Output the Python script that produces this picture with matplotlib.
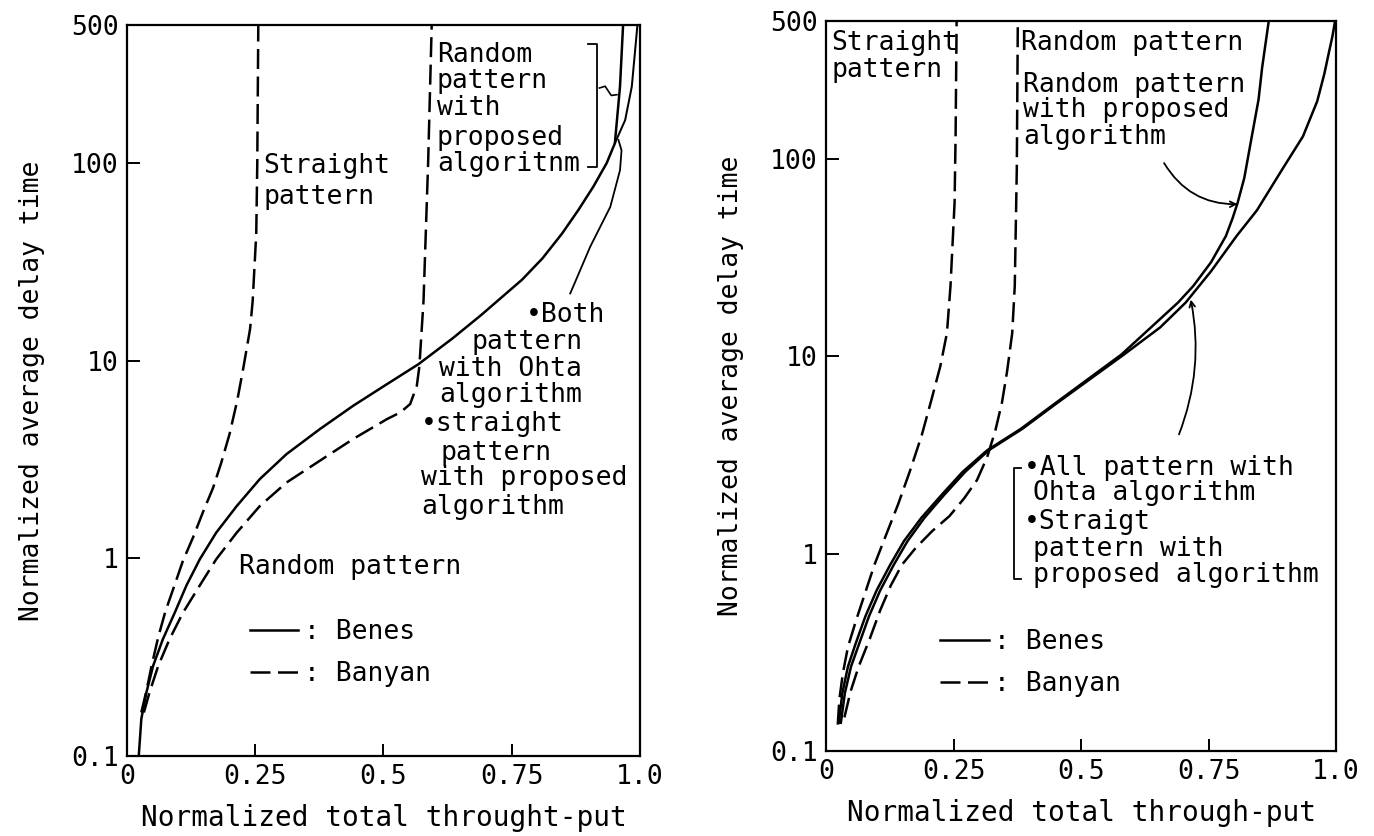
import matplotlib
matplotlib.use("Agg")
import matplotlib.pyplot as plt
from matplotlib.lines import Line2D
from matplotlib.ticker import NullLocator

plt.rcParams['font.family'] = ['DejaVu Sans Mono', 'DejaVu Sans']

# ---- axes ticks / labels ----
XTICKS = [0, 0.25, 0.5, 0.75, 1.0]
XTICKLABELS = ["0", "0.25", "0.5", "0.75", "1.0"]
YTICKS = [0.1, 1, 10, 100, 500]
YTICKLABELS = ["0.1", "1", "10", "100", "500"]
YLABEL = "Normalized average delay time"
XLABEL_LEFT = "Normalized total throught-put"
XLABEL_RIGHT = "Normalized total through-put"

# ---- left panel ----
L_BENES_X = [0.023, 0.028, 0.038, 0.051, 0.070, 0.093, 0.116, 0.142, 0.174, 0.214,
             0.259, 0.311, 0.376, 0.441, 0.507, 0.568, 0.635, 0.690, 0.770, 0.810,
             0.848, 0.880, 0.909, 0.935, 0.951, 0.961, 0.967]
L_BENES_Y = [0.10, 0.154, 0.21, 0.286, 0.39, 0.53, 0.73, 0.99, 1.35, 1.84,
             2.52, 3.37, 4.51, 5.92, 7.62, 9.6, 13, 17, 25.7, 33,
             44, 58, 76, 100, 126, 244, 500]
L_PROPOSED_X = [0.951, 0.971, 0.984, 0.995]
L_PROPOSED_Y = [126, 165, 244, 500]
L_STRAIGHT_BANYAN_X = [0.028, 0.038, 0.048, 0.061, 0.075, 0.091, 0.109, 0.129, 0.148, 0.168,
                       0.184, 0.200, 0.215, 0.227, 0.240, 0.245, 0.252, 0.254, 0.256]
L_STRAIGHT_BANYAN_Y = [0.166, 0.214, 0.286, 0.40, 0.54, 0.71, 0.97, 1.28, 1.71, 2.28,
                       3.06, 4.26, 6.3, 9.25, 14.5, 20, 44, 100, 500]
L_RANDOM_BANYAN_X = [0.033, 0.044, 0.061, 0.083, 0.109, 0.142, 0.174, 0.214, 0.259, 0.311,
                     0.376, 0.441, 0.507, 0.533, 0.552, 0.565, 0.570, 0.578, 0.587, 0.594]
L_RANDOM_BANYAN_Y = [0.166, 0.21, 0.286, 0.39, 0.53, 0.73, 0.99, 1.35, 1.84, 2.42,
                     3.12, 4.02, 5.07, 5.48, 6.04, 7.47, 9.4, 20, 100, 500]

# ---- right panel ----
R_STRAIGHT_BANYAN_X = [0.023, 0.026, 0.033, 0.043, 0.059, 0.076, 0.095, 0.118, 0.141, 0.164,
                       0.1875, 0.207, 0.224, 0.237, 0.244, 0.252, 0.254, 0.256]
R_STRAIGHT_BANYAN_Y = [0.136, 0.182, 0.248, 0.337, 0.46, 0.625, 0.88, 1.25, 1.77, 2.6,
                       3.97, 6.07, 8.9, 13.1, 22.7, 60, 131, 500]
R_RANDOM_BANYAN_X = [0.036, 0.048, 0.064, 0.086, 0.106, 0.127, 0.149, 0.176, 0.208, 0.242,
                     0.271, 0.296, 0.316, 0.332, 0.345, 0.355, 0.365, 0.370, 0.374, 0.376]
R_RANDOM_BANYAN_Y = [0.148, 0.20, 0.268, 0.372, 0.515, 0.69, 0.88, 1.07, 1.30, 1.55,
                     1.91, 2.36, 3.09, 4.21, 5.84, 8.4, 13.1, 22.7, 89, 500]
R_PROPOSED_X = [0.025, 0.032, 0.043, 0.058, 0.077, 0.099, 0.126, 0.153, 0.187, 0.227,
                0.268, 0.316, 0.382, 0.447, 0.513, 0.579, 0.690, 0.720, 0.755, 0.784,
                0.797, 0.807, 0.820, 0.835, 0.848, 0.855, 0.868]
R_PROPOSED_Y = [0.139, 0.197, 0.268, 0.35, 0.48, 0.65, 0.88, 1.16, 1.52, 1.99,
                2.6, 3.34, 4.29, 5.72, 7.64, 10.2, 18.7, 22.7, 30, 40.7,
                50, 60, 80, 131, 200, 290, 500]
R_OHTA_X = [0.029, 0.037, 0.049, 0.065, 0.084, 0.106, 0.133, 0.160, 0.193, 0.232,
            0.273, 0.319, 0.385, 0.450, 0.517, 0.584, 0.655, 0.705, 0.755, 0.805,
            0.845, 0.895, 0.935, 0.963, 0.977, 0.986, 0.993, 0.998]
R_OHTA_Y = [0.139, 0.197, 0.268, 0.35, 0.48, 0.65, 0.88, 1.16, 1.52, 1.99,
            2.6, 3.34, 4.29, 5.72, 7.64, 10.2, 14, 18.7, 27, 40.7,
            55, 89, 130, 196, 270, 347, 420, 500]

FS = 19
LW = 1.8
DASH = (8, 3)

fig = plt.figure(figsize=(13.74, 8.36), dpi=100)
ax1 = fig.add_axes([0.0924, 0.0957, 0.3734, 0.8744])
ax2 = fig.add_axes([0.6012, 0.1017, 0.3712, 0.8732])


def setup(ax, xlabel):
    ax.set_yscale("log")
    ax.set_xlim(0, 1)
    ax.set_ylim(0.1, 500)
    ax.set_xticks(XTICKS)
    ax.set_xticklabels(XTICKLABELS)
    ax.set_yticks(YTICKS)
    ax.set_yticklabels(YTICKLABELS)
    ax.yaxis.set_minor_locator(NullLocator())
    ax.tick_params(direction="in", length=9, width=1.4, labelsize=FS, pad=6)
    for s in ax.spines.values():
        s.set_linewidth(1.6)
    ax.set_xlabel(xlabel, fontsize=20, labelpad=10)
    ax.set_ylabel(YLABEL, fontsize=FS, labelpad=19)


def txt(ax, x, y, s):
    ax.text(x, y, s, fontsize=FS, ha="left", va="center")


def key(ax, x, y, hlen):
    handles = [Line2D([], [], color="k", lw=LW),
               Line2D([], [], color="k", lw=LW, dashes=DASH)]
    ax.legend(handles, [": Benes", ": Banyan"], loc="center left",
              bbox_to_anchor=(x, y), frameon=False, fontsize=FS,
              borderpad=0, borderaxespad=0, handlelength=hlen,
              handletextpad=0.2, labelspacing=0.6)


# ===== left panel =====
setup(ax1, XLABEL_LEFT)
ax1.plot(L_BENES_X, L_BENES_Y, color="k", lw=LW)
ax1.plot(L_PROPOSED_X, L_PROPOSED_Y, color="k", lw=LW * 0.8)
ax1.plot(L_STRAIGHT_BANYAN_X, L_STRAIGHT_BANYAN_Y, color="k", lw=LW, dashes=DASH)
ax1.plot(L_RANDOM_BANYAN_X, L_RANDOM_BANYAN_Y, color="k", lw=LW, dashes=DASH)

txt(ax1, 0.266, 97, "Straight")
txt(ax1, 0.266, 67, "pattern")
for s, y in zip(["Random", "pattern", "with", "proposed", "algoritnm"],
                [352, 259, 190, 134, 99]):
    txt(ax1, 0.604, y, s)
# bracket + squiggle pointing at the proposed-algorithm curve
ax1.plot([0.899, 0.9155, 0.9155, 0.899], [401, 401, 96, 96], color="k", lw=1.3)
ax1.plot([0.921, 0.932, 0.938, 0.944, 0.955], [240, 245, 232, 220, 222],
         color="k", lw=1.2)

txt(ax1, 0.778, 17.1, "•Both")
txt(ax1, 0.672, 12.4, "pattern")
txt(ax1, 0.609, 9.1, "with Ohta")
txt(ax1, 0.609, 6.7, "algorithm")
txt(ax1, 0.573, 4.77, "•straight")
txt(ax1, 0.611, 3.41, "pattern")
txt(ax1, 0.573, 2.54, "with proposed")
txt(ax1, 0.573, 1.81, "algorithm")
# leader from "Both" label to the curve
ax1.plot([0.864, 0.903, 0.942, 0.961, 0.964, 0.958], [21.9, 37.8, 60, 92, 116, 131],
         color="k", lw=1.3)

txt(ax1, 0.218, 0.906, "Random pattern")
key(ax1, 0.24, 0.141, 1.83)

# ===== right panel =====
setup(ax2, XLABEL_RIGHT)
ax2.plot(R_PROPOSED_X, R_PROPOSED_Y, color="k", lw=LW)
ax2.plot(R_OHTA_X, R_OHTA_Y, color="k", lw=LW)
ax2.plot(R_STRAIGHT_BANYAN_X, R_STRAIGHT_BANYAN_Y, color="k", lw=LW, dashes=DASH)
ax2.plot(R_RANDOM_BANYAN_X, R_RANDOM_BANYAN_Y, color="k", lw=LW, dashes=DASH)

txt(ax2, 0.010, 385, "Straight")
txt(ax2, 0.010, 281, "pattern")
txt(ax2, 0.382, 385, "Random pattern")
txt(ax2, 0.387, 236, "Random pattern")
txt(ax2, 0.387, 176, "with proposed")
txt(ax2, 0.387, 129, "algorithm")
ax2.annotate("", xy=(0.812, 59), xytext=(0.66, 98),
             arrowprops=dict(arrowstyle="->", color="k", lw=1.3,
                             connectionstyle="arc3,rad=0.3"))

ax2.plot([0.382, 0.368, 0.368, 0.382], [2.7, 2.7, 0.746, 0.746], color="k", lw=1.3)
txt(ax2, 0.388, 2.7, "•All pattern with")
txt(ax2, 0.405, 2.03, "Ohta algorithm")
txt(ax2, 0.388, 1.44, "•Straigt")
txt(ax2, 0.405, 1.06, "pattern with")
txt(ax2, 0.405, 0.775, "proposed algorithm")
ax2.annotate("", xy=(0.714, 20), xytext=(0.69, 3.9),
             arrowprops=dict(arrowstyle="->", color="k", lw=1.3,
                             connectionstyle="arc3,rad=0.15"))

key(ax2, 0.224, 0.120, 1.85)

fig.savefig("out.png", dpi=100, facecolor="white")
